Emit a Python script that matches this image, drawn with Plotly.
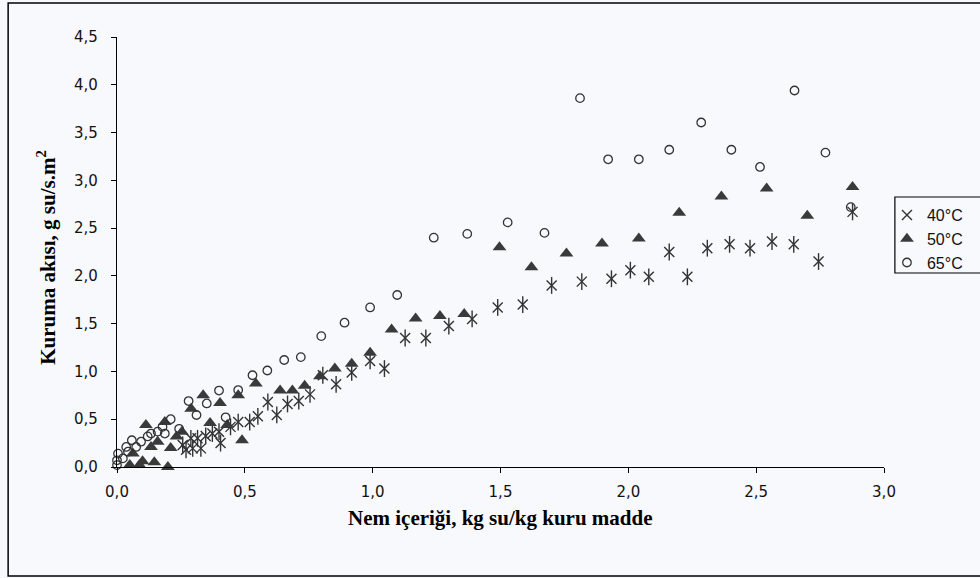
import plotly.graph_objects as go

# 40°C
x40 = [0.257, 0.27, 0.289, 0.296, 0.315, 0.328, 0.347, 0.373, 0.399, 0.405, 0.444, 0.474, 0.519, 0.551,
       0.59, 0.625, 0.667, 0.711, 0.755, 0.805, 0.857, 0.918, 0.99, 1.046, 1.127, 1.208, 1.298, 1.389,
       1.489, 1.587, 1.70, 1.818, 1.934, 2.008, 2.080, 2.160, 2.231, 2.309, 2.396, 2.476, 2.562, 2.647,
       2.744, 2.877]
y40 = [0.23, 0.18, 0.30, 0.195, 0.30, 0.195, 0.325, 0.35, 0.37, 0.25, 0.42, 0.47, 0.47, 0.53,
       0.68, 0.545, 0.66, 0.69, 0.76, 0.96, 0.865, 0.99, 1.11, 1.03, 1.35, 1.35, 1.475, 1.55,
       1.67, 1.70, 1.90, 1.94, 1.97, 2.06, 1.99, 2.25, 1.99, 2.29, 2.33, 2.29, 2.36, 2.33,
       2.15, 2.67]

# 50°C
x50 = [0.05, 0.062, 0.088, 0.10, 0.113, 0.133, 0.146, 0.159, 0.187, 0.199, 0.21, 0.233, 0.254, 0.29,
       0.337, 0.364, 0.403, 0.431, 0.474, 0.489, 0.543, 0.638, 0.686, 0.734, 0.794, 0.852, 0.918,
       0.99, 1.074, 1.168, 1.263, 1.358, 1.496, 1.621, 1.758, 1.897, 2.041, 2.199, 2.364, 2.541,
       2.70, 2.877]
y50 = [0.02, 0.14, 0.02, 0.06, 0.44, 0.21, 0.05, 0.265, 0.47, 0.0, 0.20, 0.32, 0.37, 0.61,
       0.75, 0.46, 0.67, 0.44, 0.75, 0.28, 0.875, 0.80, 0.80, 0.85, 0.95, 1.03, 1.08,
       1.195, 1.44, 1.555, 1.58, 1.60, 2.30, 2.09, 2.235, 2.34, 2.39, 2.66, 2.83, 2.915,
       2.63, 2.93]

# 65°C
x65 = [0.0, 0.0, 0.023, 0.004, 0.043, 0.036, 0.075, 0.058, 0.094, 0.12, 0.133, 0.159, 0.178, 0.187,
       0.21, 0.243, 0.28, 0.311, 0.351, 0.399, 0.425, 0.474, 0.53, 0.588, 0.654, 0.719, 0.799, 0.890,
       0.99, 1.096, 1.239, 1.37, 1.528, 1.672, 1.811, 1.921, 2.041, 2.160, 2.285, 2.403, 2.515, 2.65,
       2.771, 2.87]
y65 = [0.02, 0.07, 0.09, 0.14, 0.16, 0.21, 0.21, 0.28, 0.265, 0.32, 0.35, 0.37, 0.42, 0.35,
       0.50, 0.40, 0.69, 0.544, 0.665, 0.80, 0.52, 0.805, 0.96, 1.01, 1.12, 1.15, 1.37, 1.51,
       1.67, 1.80, 2.40, 2.44, 2.56, 2.45, 3.86, 3.22, 3.22, 3.32, 3.605, 3.32, 3.14, 3.94,
       3.29, 2.72]

series_names = ["40°C", "50°C", "65°C"]
x_title = "Nem içeriği, kg su/kg kuru madde"
y_title = "Kuruma akısı, g su/s.m<sup>2</sup>"

W, H = 980, 578
L, R, T, B = 117, 88, 37, 111
pw, ph = W - L - R, H - T - B


def px_x(p):
    return (p - L) / pw


def px_y(p):
    return (H - B - p) / ph


mc = "#333333"
bg = "#f8f9fc"

fig = go.Figure()
fig.add_trace(go.Scatter(x=x40, y=y40, mode="markers", name=series_names[0], legendgroup="a",
                         marker=dict(symbol="x-thin-open", size=10, color=mc,
                                     line=dict(color=mc, width=1.4)),
                         cliponaxis=False))
fig.add_trace(go.Scatter(x=x40, y=y40, mode="markers", name=series_names[0], legendgroup="a",
                         showlegend=False,
                         marker=dict(symbol="line-ns-open", size=12, color=mc,
                                     line=dict(color=mc, width=1.4)),
                         cliponaxis=False))
fig.add_trace(go.Scatter(x=x50, y=y50, mode="markers", name=series_names[1],
                         marker=dict(symbol="triangle-up", size=12, color="#3a3a3a",
                                     line=dict(width=0)),
                         cliponaxis=False))
fig.add_trace(go.Scatter(x=x65, y=y65, mode="markers", name=series_names[2],
                         marker=dict(symbol="circle-open", size=8.5, color=mc,
                                     line=dict(color=mc, width=1.3)),
                         cliponaxis=False))

axis_common = dict(showline=True, linecolor="#000000", linewidth=1.2, ticks="outside", ticklen=5,
                   tickcolor="#000000", tickwidth=1.2, showgrid=False, zeroline=False,
                   tickformat=".1f", dtick=0.5,
                   tickfont=dict(family="DejaVu Sans", size=15, color="#111111"))

title_font = dict(family="Liberation Serif", size=21, color="#000000", weight="bold")

fig.update_layout(
    width=W, height=H,
    margin=dict(l=L, r=R, t=T, b=B, pad=0),
    paper_bgcolor=bg, plot_bgcolor=bg,
    separators=",.",
    xaxis=dict(range=[0, 3.0], tick0=0, ticklabelstandoff=6, **axis_common),
    yaxis=dict(range=[0, 4.5], tick0=0, ticklabelstandoff=10, **axis_common),
    showlegend=True,
    legend=dict(x=px_x(895), y=px_y(198), xanchor="left", yanchor="top",
                bgcolor="rgba(0,0,0,0)", borderwidth=0,
                font=dict(family="Liberation Sans", size=16, color="#111111"),
                itemwidth=30, tracegroupgap=0),
    annotations=[
        dict(text=x_title, xref="paper", yref="paper", x=0.5, y=px_y(518),
             xanchor="center", yanchor="middle", showarrow=False, font=title_font),
        dict(text=y_title, xref="paper", yref="paper", x=px_x(45), y=px_y(258),
             xanchor="center", yanchor="middle", showarrow=False, textangle=-90,
             font=title_font),
    ],
    shapes=[
        dict(type="rect", xref="paper", yref="paper",
             x0=px_x(7), x1=px_x(995), y0=px_y(576), y1=px_y(3),
             line=dict(color="#000000", width=1.5), fillcolor="rgba(0,0,0,0)", layer="above"),
        dict(type="rect", xref="paper", yref="paper",
             x0=px_x(903), x1=px_x(995), y0=px_y(273), y1=px_y(197),
             line=dict(color="#000000", width=1.2), fillcolor="rgba(0,0,0,0)", layer="above"),
    ],
)

fig.write_html("out.html")
